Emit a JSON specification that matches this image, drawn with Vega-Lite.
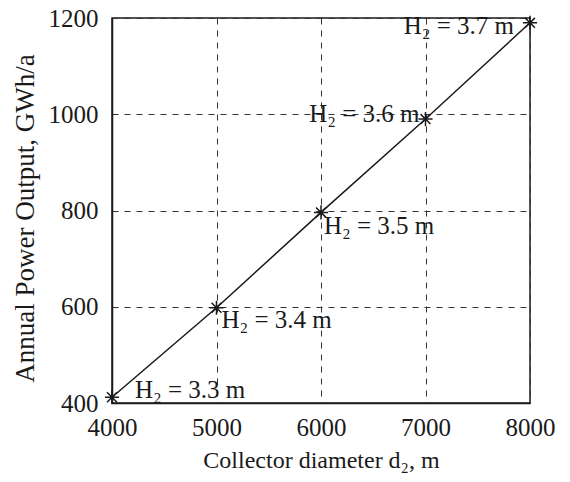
{
  "$schema": "https://vega.github.io/schema/vega-lite/v6.json",
  "width": 418,
  "height": 385,
  "autosize": "none",
  "padding": {"left": 112, "top": 18, "right": 40, "bottom": 79},
  "background": "white",
  "config": {
    "font": "Liberation Serif",
    "view": {"stroke": "#1a1a1a", "strokeWidth": 1.5},
    "axis": {
      "domainColor": "#1a1a1a",
      "domainWidth": 1.5,
      "gridColor": "#333",
      "gridDash": [6, 6],
      "gridWidth": 1,
      "gridOpacity": 1,
      "tickColor": "#1a1a1a",
      "tickSize": 0,
      "labelFont": "Liberation Serif",
      "labelFontSize": 25,
      "labelColor": "#1a1a1a",
      "titleFont": "Liberation Serif",
      "titleFontSize": 24,
      "titleFontWeight": "normal",
      "titleColor": "#1a1a1a"
    }
  },
  "data": {
    "values": [
      {"d": 4000, "p": 412, "label": "H₂ = 3.3 m"},
      {"d": 5000, "p": 598, "label": "H₂ = 3.4 m"},
      {"d": 6000, "p": 796, "label": "H₂ = 3.5 m"},
      {"d": 7000, "p": 990, "label": "H₂ = 3.6 m"},
      {"d": 8000, "p": 1190, "label": "H₂ = 3.7 m"}
    ]
  },
  "encoding": {
    "x": {
      "field": "d", "type": "quantitative",
      "scale": {"domain": [4000, 8000], "nice": false, "zero": false},
      "axis": {"title": "Collector diameter d₂, m", "values": [4000, 5000, 6000, 7000, 8000], "format": "d", "labelPadding": 12, "titlePadding": 8, "labelFlush": false}
    },
    "y": {
      "field": "p", "type": "quantitative",
      "scale": {"domain": [400, 1200], "nice": false, "zero": false},
      "axis": {"title": "Annual Power Output, GWh/a", "titleFontSize": 27, "titleY": 200, "values": [400, 600, 800, 1000, 1200], "format": "d", "labelPadding": 14, "titlePadding": 9, "labelFlush": false}
    }
  },
  "layer": [
    {"mark": {"type": "line", "color": "#1a1a1a", "strokeWidth": 1.5}},
    {"mark": {"type": "point", "shape": "M-1,0L1,0M0,-1L0,1M-0.7,-0.7L0.7,0.7M-0.7,0.7L0.7,-0.7", "size": 200, "filled": false, "color": "#1a1a1a", "strokeWidth": 1.5, "opacity": 1}},
    {"transform": [{"filter": "datum.d == 4000"}], "mark": {"type": "text", "align": "left", "baseline": "alphabetic", "dx": 23, "dy": 1, "fontSize": 25, "color": "#1a1a1a", "font": "Liberation Serif"}, "encoding": {"text": {"field": "label"}}},
    {"transform": [{"filter": "datum.d == 5000"}], "mark": {"type": "text", "align": "left", "baseline": "alphabetic", "dx": 5, "dy": 20, "fontSize": 25, "color": "#1a1a1a", "font": "Liberation Serif"}, "encoding": {"text": {"field": "label"}}},
    {"transform": [{"filter": "datum.d == 6000"}], "mark": {"type": "text", "align": "left", "baseline": "alphabetic", "dx": 3, "dy": 22, "fontSize": 25, "color": "#1a1a1a", "font": "Liberation Serif"}, "encoding": {"text": {"field": "label"}}},
    {"transform": [{"filter": "datum.d == 7000"}], "mark": {"type": "text", "align": "right", "baseline": "alphabetic", "dx": -6, "dy": 3, "fontSize": 25, "color": "#1a1a1a", "font": "Liberation Serif"}, "encoding": {"text": {"field": "label"}}},
    {"transform": [{"filter": "datum.d == 8000"}], "mark": {"type": "text", "align": "right", "baseline": "alphabetic", "dx": -16, "dy": 11, "fontSize": 25, "color": "#1a1a1a", "font": "Liberation Serif"}, "encoding": {"text": {"field": "label"}}}
  ]
}
